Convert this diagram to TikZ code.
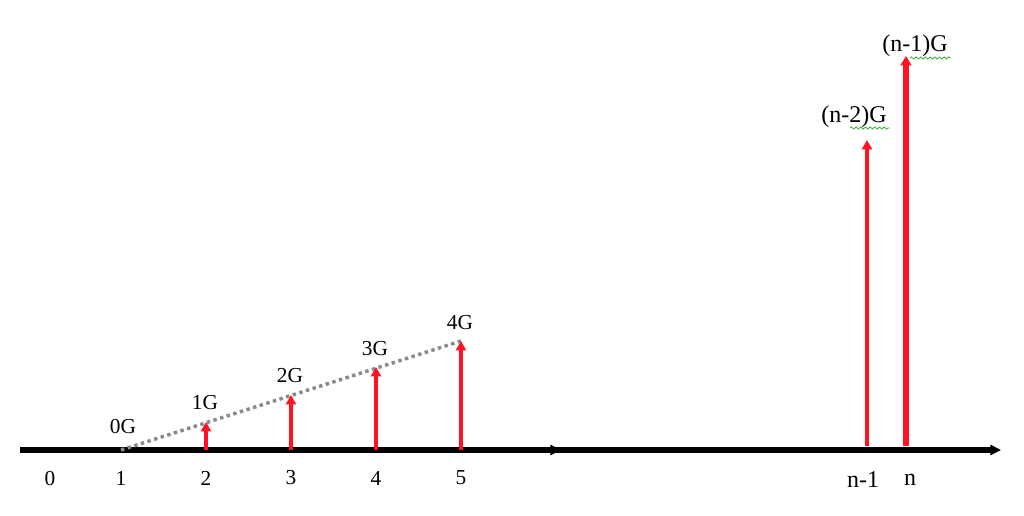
\documentclass[tikz,border=0pt]{standalone}
\usepackage{fontspec}
\setmainfont{Liberation Serif}
\usetikzlibrary{arrows.meta,decorations.pathmorphing}
\definecolor{vred}{HTML}{FF1224}
\definecolor{dgray}{HTML}{8A8A8A}
\definecolor{sgreen}{HTML}{3AA83A}
\begin{document}
\begin{tikzpicture}[x=0.75pt,y=-0.75pt,
  axis/.style={line width=3.8pt,-{Triangle[length=8pt,width=7.5pt]}},
  vec/.style={vred,line width=3pt,-{Triangle[length=7pt,width=7.5pt]}},
  bigvec/.style={vred,line width=4.5pt,-{Triangle[length=7pt,width=8pt]}},
  lab/.style={font=\fontsize{16}{19}\selectfont,inner sep=0pt},
  biglab/.style={font=\fontsize{18}{21}\selectfont,inner sep=0pt},
  guide/.style={dgray,line width=2.6pt,dash pattern=on 2.6pt off 2.6pt},
  squig/.style={sgreen,line width=0.6pt,decorate,decoration={snake,amplitude=0.8pt,segment length=3.5pt}}]
\useasboundingbox (0,0) rectangle (1024,515);
% axis
\coordinate (a0) at (20,450);
\coordinate (amid) at (561,450);
\coordinate (aend) at (1001,450);
\draw[axis] (a0) -- (aend);
\draw[axis] (a0) -- (amid);
% base points
\coordinate (b1) at (121,450);
\coordinate (b2) at (206,450);
\coordinate (b3) at (291,450);
\coordinate (b4) at (376,450);
\coordinate (b5) at (461,450);
\coordinate (t2) at (206,422);
\coordinate (t3) at (291,395);
\coordinate (t4) at (376,367);
\coordinate (t5) at (461,341);
% guide line
\draw[guide] (b1) -- (t5);
% vectors
\draw[vec] (b2) -- (t2);
\draw[vec] (b3) -- (t3);
\draw[vec] (b4) -- (t4);
\draw[vec] (b5) -- (t5);
\coordinate (bn1) at (867,446);
\coordinate (tn1) at (867,140);
\coordinate (bn) at (906,446);
\coordinate (tn) at (906,56);
\draw[vec] (bn1) -- (tn1);
\draw[bigvec] (bn) -- (tn);
% axis labels
\node[lab] (l0) at (50,478) {0};
\node[lab] (l1) at (121,478) {1};
\node[lab] (l2) at (206,478) {2};
\node[lab] (l3) at (291,478) {3};
\node[lab] (l4) at (376,478) {4};
\node[lab] (l5) at (461,478) {5};
\node[biglab] (ln1) at (863,480) {n-1};
\node[biglab] (ln) at (910,480) {n};
% value labels
\node[lab] (g0) at (123,427) {0G};
\node[lab] (g1) at (205,403) {1G};
\node[lab] (g2) at (290,376) {2G};
\node[lab] (g3) at (375,349) {3G};
\node[lab] (g4) at (460,323) {4G};
\node[biglab] (gn2) at (854,117) {(n-2)G};
\node[biglab] (gn1) at (915,46) {(n-1)G};
\draw[squig] (850,128) -- (890,128);
\draw[squig] (910,58) -- (951,58);
\end{tikzpicture}
\end{document}
